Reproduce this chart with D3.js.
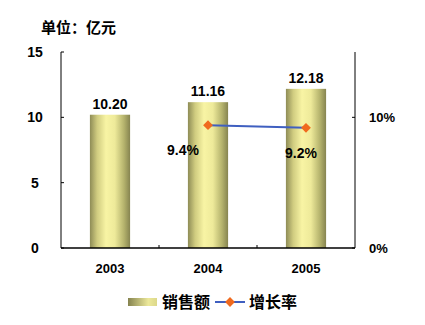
<!DOCTYPE html>
<html>
<head>
<meta charset="utf-8">
<script src="https://cdn.jsdelivr.net/npm/d3@7"></script>
<style>
  body { margin: 0; background: #fff; }
  text { font-family: Arial, "Liberation Sans", "Noto Sans CJK SC", sans-serif; font-weight: bold; fill: #000; }
</style>
</head>
<body>
<div id="chart"></div>
<script>
// data
var years = ["2003", "2004", "2005"];
var sales = [10.20, 11.16, 12.18];
var growthYears = ["2004", "2005"];
var growth = [9.4, 9.2];
var leftTicks = [0, 5, 10, 15];
var rightTicks = [0, 10];

var width = 425, height = 325,
    margin = {top: 52, right: 70, bottom: 77, left: 61},
    w = width - margin.left - margin.right,
    h = height - margin.top - margin.bottom;

var svg = d3.select("#chart").append("svg")
    .attr("width", width)
    .attr("height", height);

var defs = svg.append("defs");
var grad = defs.append("linearGradient").attr("id", "barGrad")
    .attr("x1", "0%").attr("x2", "100%").attr("y1", "0%").attr("y2", "0%");
grad.append("stop").attr("offset", "0%").attr("stop-color", "#8e8c56");
grad.append("stop").attr("offset", "18%").attr("stop-color", "#d0cc80");
grad.append("stop").attr("offset", "40%").attr("stop-color", "#f8f4a4");
grad.append("stop").attr("offset", "62%").attr("stop-color", "#eeea9a");
grad.append("stop").attr("offset", "85%").attr("stop-color", "#b4b26c");
grad.append("stop").attr("offset", "100%").attr("stop-color", "#868450");

var legGrad = defs.append("linearGradient").attr("id", "legGrad")
    .attr("x1", "0%").attr("x2", "100%");
legGrad.append("stop").attr("offset", "0%").attr("stop-color", "#85834f");
legGrad.append("stop").attr("offset", "70%").attr("stop-color", "#ece89a");
legGrad.append("stop").attr("offset", "100%").attr("stop-color", "#dcd88a");

var g = svg.append("g")
    .attr("transform", "translate(" + margin.left + "," + margin.top + ")");

var x = d3.scaleBand().domain(years).range([0, w]).paddingInner(0.59).paddingOuter(0.295);
var xb = d3.scaleBand().domain(years).range([0, w]);
var y = d3.scaleLinear().domain([0, 15]).range([h, 0]);
var y2 = d3.scaleLinear().domain([0, 15]).range([h, 0]);

// bars
g.selectAll(".bar").data(sales).enter().append("rect")
    .attr("x", function(d, i) { return x(years[i]); })
    .attr("y", function(d) { return y(d); })
    .attr("width", x.bandwidth())
    .attr("height", function(d) { return h - y(d); })
    .attr("fill", "url(#barGrad)");

g.selectAll(".barlabel").data(sales).enter().append("text")
    .attr("x", function(d, i) { return x(years[i]) + x.bandwidth() / 2; })
    .attr("y", function(d) { return y(d) - 6; })
    .attr("text-anchor", "middle")
    .style("font-size", "14px")
    .text(function(d) { return d.toFixed(2); });

// axes
g.append("line").attr("x1", 0).attr("x2", 0).attr("y1", 0).attr("y2", h).attr("stroke", "#000");
g.append("line").attr("x1", w).attr("x2", w).attr("y1", 0).attr("y2", h).attr("stroke", "#000");
g.append("line").attr("x1", 0).attr("x2", w).attr("y1", h).attr("y2", h).attr("stroke", "#000").attr("stroke-width", 1.5);

g.selectAll(".lt").data(leftTicks).enter().append("line")
    .attr("x1", 0).attr("x2", 3)
    .attr("y1", function(d) { return y(d); }).attr("y2", function(d) { return y(d); })
    .attr("stroke", "#000");
g.selectAll(".ltl").data(leftTicks).enter().append("text")
    .attr("x", -26).attr("y", function(d) { return y(d); })
    .attr("dy", "0.35em").attr("text-anchor", "middle")
    .style("font-size", "14px")
    .text(function(d) { return d; });

g.selectAll(".rt").data(rightTicks).enter().append("line")
    .attr("x1", w - 3).attr("x2", w)
    .attr("y1", function(d) { return y2(d); }).attr("y2", function(d) { return y2(d); })
    .attr("stroke", "#000");
g.selectAll(".rtl").data(rightTicks).enter().append("text")
    .attr("x", w + 14).attr("y", function(d) { return y2(d); })
    .attr("dy", "0.35em").attr("text-anchor", "start")
    .style("font-size", "13px")
    .text(function(d) { return d + "%"; });

g.selectAll(".bt").data(years.slice(1)).enter().append("line")
    .attr("x1", function(d) { return xb(d); }).attr("x2", function(d) { return xb(d); })
    .attr("y1", h - 3).attr("y2", h)
    .attr("stroke", "#000");
g.selectAll(".btl").data(years).enter().append("text")
    .attr("x", function(d) { return xb(d) + xb.bandwidth() / 2; })
    .attr("y", h + 20).attr("dy", "0.35em").attr("text-anchor", "middle")
    .style("font-size", "13px")
    .text(function(d) { return d; });

// growth line
var cx = function(d, i) { return x(growthYears[i]) + x.bandwidth() / 2; };
var line = d3.line()
    .x(function(d, i) { return cx(d, i); })
    .y(function(d) { return y2(d); });
g.append("path").datum(growth)
    .attr("d", line)
    .attr("fill", "none")
    .attr("stroke", "#3f5fc0")
    .attr("stroke-width", 2);
// diamond = square turned 45deg
var diamond = d3.symbol().type(d3.symbolSquare).size(48);
g.selectAll(".pt").data(growth).enter().append("path")
    .attr("d", diamond)
    .attr("transform", function(d, i) { return "translate(" + cx(d, i) + "," + y2(d) + ") rotate(45)"; })
    .attr("fill", "#f06a1e");
g.selectAll(".ptl").data(growth).enter().append("text")
    .attr("x", function(d, i) { return i === 0 ? cx(d, i) - 25 : cx(d, i) - 5; })
    .attr("y", function(d) { return y2(d) + 25; })
    .attr("dy", "0.35em").attr("text-anchor", "middle")
    .style("font-size", "14px")
    .text(function(d) { return d.toFixed(1) + "%"; });

// title
svg.append("text").attr("x", 41).attr("y", 28).attr("dy", "0.35em")
    .style("font-size", "15px")
    .text("单位：亿元");

// legend
var leg = svg.append("g").attr("transform", "translate(0,302)");
leg.append("rect").attr("x", 128).attr("y", -4).attr("width", 29).attr("height", 8).attr("fill", "url(#legGrad)");
leg.append("text").attr("x", 162).attr("y", 0).attr("dy", "0.35em").style("font-size", "16px").text("销售额");
leg.append("line").attr("x1", 215).attr("x2", 245).attr("y1", 0).attr("y2", 0).attr("stroke", "#3f5fc0").attr("stroke-width", 2);
leg.append("path").attr("d", diamond).attr("transform", "translate(230,0) rotate(45)").attr("fill", "#f06a1e");
leg.append("text").attr("x", 249).attr("y", 0).attr("dy", "0.35em").style("font-size", "16px").text("增长率");
</script>
</body>
</html>
